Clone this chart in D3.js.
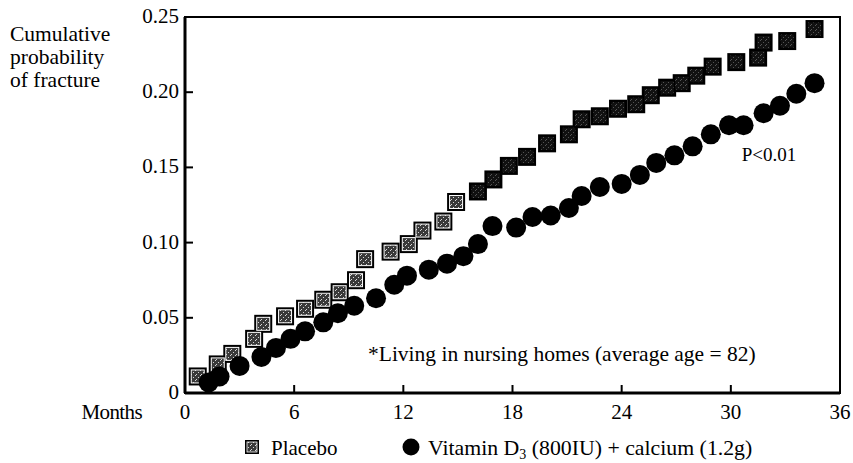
<!DOCTYPE html>
<html>
<head>
<meta charset="utf-8">
<script src="https://cdn.jsdelivr.net/npm/d3@7"></script>
<style>
  html, body { margin: 0; padding: 0; background: #fff; }
  svg { display: block; }
</style>
</head>
<body>
<div id="chart"></div>
<script>
// Cumulative probability of fracture, placebo vs vitamin D3 + calcium

const placeboMonths = [0.7, 1.8, 2.6, 3.8, 4.3, 5.5, 6.6, 7.6, 8.5, 9.4, 9.9, 11.3, 12.3, 13.05, 14.2, 14.9,
    16.1, 16.95, 17.8, 18.8, 19.9, 21.1, 21.8, 22.8, 23.8, 24.8, 25.6, 26.5, 27.3, 28.1, 29.0, 30.3,
    31.5, 31.8, 33.1, 34.6];
const placeboValues = [0.011, 0.019, 0.026, 0.036, 0.046, 0.051, 0.056, 0.062, 0.067, 0.075, 0.089, 0.094, 0.099, 0.108, 0.114, 0.127,
    0.134, 0.142, 0.151, 0.157, 0.166, 0.172, 0.182, 0.184, 0.189, 0.192, 0.198, 0.203, 0.206, 0.211, 0.217, 0.220,
    0.223, 0.233, 0.234, 0.242];

const vitaminMonths = [1.3, 1.9, 3.0, 4.2, 5.0, 5.8, 6.6, 7.6, 8.4, 9.3, 10.5, 11.5, 12.2, 13.4, 14.4, 15.3,
    16.1, 16.9, 18.2, 19.1, 20.1, 21.1, 21.8, 22.8, 24.0, 25.0, 25.9, 26.9, 27.9, 28.9, 29.9, 30.7,
    31.8, 32.7, 33.6, 34.6];
const vitaminValues = [0.007, 0.011, 0.018, 0.024, 0.030, 0.036, 0.041, 0.047, 0.053, 0.058, 0.063, 0.072, 0.078, 0.082, 0.086, 0.091,
    0.099, 0.111, 0.110, 0.117, 0.118, 0.123, 0.131, 0.137, 0.139, 0.145, 0.153, 0.158, 0.164, 0.172, 0.178, 0.178,
    0.186, 0.191, 0.199, 0.206];

const xTicks = [0, 6, 12, 18, 24, 30, 36];
const yTicks = [0, 0.05, 0.10, 0.15, 0.20, 0.25];
const yTitle = ["Cumulative", "probability", "of fracture"];
const legendLabels = ["Placebo", "Vitamin D", "3", " (800IU) + calcium (1.2g)"];

const width = 853, height = 463;
const margin = { top: 17, right: 13, bottom: 70, left: 185 };
const fs = 21;
const serif = "'Liberation Serif'";

const svg = d3.select("#chart").append("svg")
    .attr("width", width)
    .attr("height", height);

// mottled fill for the placebo squares
const defs = svg.append("defs");
function speckle(id, base, dots) {
    const p = defs.append("pattern")
        .attr("id", id)
        .attr("width", 5).attr("height", 5)
        .attr("patternUnits", "userSpaceOnUse");
    p.append("rect").attr("width", 5).attr("height", 5).attr("fill", base);
    p.append("rect").attr("x", 0).attr("y", 0).attr("width", 1).attr("height", 1).attr("fill", dots);
    p.append("rect").attr("x", 3).attr("y", 2).attr("width", 1).attr("height", 1).attr("fill", dots);
    p.append("rect").attr("x", 1).attr("y", 4).attr("width", 1).attr("height", 1).attr("fill", dots);
}
speckle("speckLight", "#3a3a3a", "#d8d8d8");
speckle("speckDark", "#111", "#555");

const x = d3.scaleLinear().domain([0, 36]).range([margin.left, width - margin.right]);
const y = d3.scaleLinear().domain([0, 0.25]).range([height - margin.bottom, margin.top]);

// frame
svg.append("rect")
    .attr("x", x(0)).attr("y", y(0.25))
    .attr("width", x(36) - x(0)).attr("height", y(0) - y(0.25))
    .attr("fill", "none").attr("stroke", "#000").attr("stroke-width", 2);
svg.append("line")
    .attr("x1", x(0)).attr("x2", x(0)).attr("y1", y(0.25)).attr("y2", y(0))
    .attr("stroke", "#000").attr("stroke-width", 3);
svg.append("line")
    .attr("x1", x(0)).attr("x2", x(36)).attr("y1", y(0)).attr("y2", y(0))
    .attr("stroke", "#000").attr("stroke-width", 3);

// ticks pointing inward
svg.append("g").selectAll("line")
    .data(xTicks.filter(t => t > 0 && t < 36))
    .enter().append("line")
    .attr("x1", d => x(d)).attr("x2", d => x(d))
    .attr("y1", y(0)).attr("y2", y(0) - 8)
    .attr("stroke", "#000").attr("stroke-width", 2);
svg.append("g").selectAll("line")
    .data(yTicks.filter(t => t > 0 && t < 0.25))
    .enter().append("line")
    .attr("x1", x(0)).attr("x2", x(0) + 8)
    .attr("y1", d => y(d)).attr("y2", d => y(d))
    .attr("stroke", "#000").attr("stroke-width", 2);

// tick labels
svg.append("g").selectAll("text")
    .data(xTicks)
    .enter().append("text")
    .attr("x", d => x(d))
    .attr("y", 419)
    .attr("text-anchor", "middle")
    .style("font-family", serif)
    .style("font-size", fs + "px")
    .text(d => d);
svg.append("text")
    .attr("x", 142).attr("y", 419)
    .attr("text-anchor", "end")
    .style("font-family", serif)
    .style("font-size", fs + "px")
    .style("letter-spacing", "-0.6px")
    .text("Months");

svg.append("g").selectAll("text")
    .data(yTicks)
    .enter().append("text")
    .attr("x", x(0) - 6)
    .attr("y", d => y(d) + 6)
    .attr("text-anchor", "end")
    .style("font-family", serif)
    .style("font-size", fs + "px")
    .text(d => d === 0 ? "0" : d3.format(".2f")(d));

svg.append("g").selectAll("text")
    .data(yTitle)
    .enter().append("text")
    .attr("x", 10)
    .attr("y", (d, i) => 41 + i * 23)
    .style("font-family", serif)
    .style("font-size", "21.5px")
    .text(d => d);

// placebo squares
const placebo = placeboMonths.map((m, i) => ({ m, v: placeboValues[i] }));
const sq = 18;
const pts = svg.append("g");
pts.selectAll("rect.outer")
    .data(placebo)
    .enter().append("rect")
    .attr("class", "outer")
    .attr("x", d => x(d.m) - sq / 2)
    .attr("y", d => y(d.v) - sq / 2)
    .attr("width", sq).attr("height", sq)
    .attr("fill", "#000");
pts.selectAll("rect.inner")
    .data(placebo)
    .enter().append("rect")
    .attr("class", "inner")
    .attr("x", d => x(d.m) - sq / 2 + 2.5)
    .attr("y", d => y(d.v) - sq / 2 + 2.5)
    .attr("width", sq - 5).attr("height", sq - 5)
    .attr("fill", d => d.m < 15 ? "url(#speckLight)" : "url(#speckDark)")
    .attr("stroke", d => d.m < 15 ? "#fff" : "none")
    .attr("stroke-width", 1);

// vitamin D3 circles
const vitamin = vitaminMonths.map((m, i) => ({ m, v: vitaminValues[i] }));
svg.append("g").selectAll("circle")
    .data(vitamin)
    .enter().append("circle")
    .attr("cx", d => x(d.m))
    .attr("cy", d => y(d.v))
    .attr("r", 10)
    .attr("fill", "#000");

// annotations
svg.append("text")
    .attr("x", 769).attr("y", 161)
    .attr("text-anchor", "middle")
    .style("font-family", serif)
    .style("font-size", "19px")
    .text("P<0.01");
svg.append("text")
    .attr("x", 368).attr("y", 361)
    .style("font-family", serif)
    .style("font-size", "21.5px")
    .text("*Living in nursing homes (average age = 82)");

// legend
const lg = svg.append("g");
lg.append("rect").attr("x", 245).attr("y", 440).attr("width", 14).attr("height", 14).attr("fill", "#000");
lg.append("rect").attr("x", 247).attr("y", 442).attr("width", 10).attr("height", 10)
    .attr("fill", "url(#speckLight)").attr("stroke", "#fff").attr("stroke-width", 0.8);
lg.append("text").attr("x", 271).attr("y", 455)
    .style("font-family", serif).style("font-size", fs + "px")
    .text(legendLabels[0]);
lg.append("circle").attr("cx", 411).attr("cy", 447).attr("r", 8.5).attr("fill", "#000");
const lt = lg.append("text").attr("x", 428).attr("y", 455)
    .style("font-family", serif).style("font-size", "21.8px");
lt.append("tspan").text(legendLabels[1]);
lt.append("tspan").style("font-size", "14px").attr("dy", 4).text(legendLabels[2]);
lt.append("tspan").attr("dy", -4).text(legendLabels[3]);
</script>
</body>
</html>
